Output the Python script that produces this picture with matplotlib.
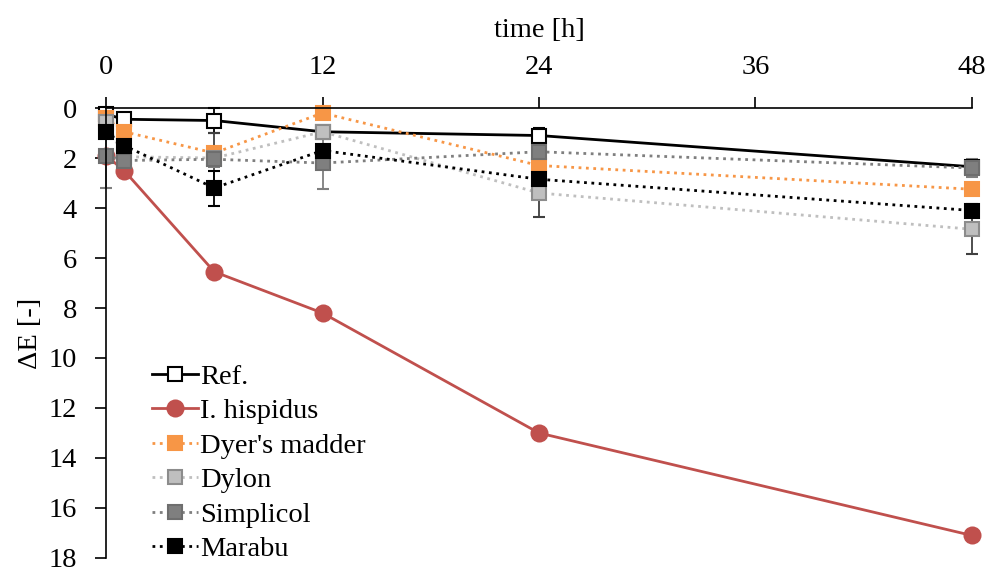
import matplotlib
matplotlib.use("Agg")
import matplotlib.pyplot as plt

plt.rcParams["font.family"] = ["Liberation Serif", "DejaVu Serif"]

time_h = [0, 1, 6, 12, 24, 48]

ref = [0.25, 0.45, 0.5, 0.95, 1.1, 2.35]
hispidus = [1.9, 2.5, 6.55, 8.2, 13.0, 17.1]
dyers_madder = [0.4, 0.95, 1.8, 0.2, 2.3, 3.25]
dylon = [0.55, 1.95, 2.0, 0.95, 3.4, 4.85]
simplicol = [1.9, 2.1, 2.05, 2.2, 1.75, 2.4]
marabu = [0.95, 1.5, 3.2, 1.7, 2.85, 4.1]

ref_err = [0.25, 0.1, 0.5, 0.1, 0.3, 0.1]
hispidus_err = [0.2, 0.2, 0.2, 0.2, 0.2, 0.2]
dyers_err = [0.1, 0.1, 0.2, 0.1, 0.2, 0.2]
dylon_err = [0.1, 0.1, 1.0, 0.2, 0.95, 1.0]
simplicol_err = [1.3, 0.1, 0.3, 1.05, 0.1, 0.35]
marabu_err = [0.1, 0.1, 0.7, 0.1, 0.2, 0.1]

series = [
    ("Ref.", ref, ref_err, dict(color="black", ls="-", marker="s", mfc="white", mec="black", ms=10.5), "black"),
    ("I. hispidus", hispidus, hispidus_err, dict(color="#C0504D", ls="-", marker="o", mfc="#C0504D", mec="#C0504D", ms=11.5), "#C0504D"),
    ("Dyer's madder", dyers_madder, dyers_err, dict(color="#F79646", ls=":", marker="s", mfc="#F79646", mec="#F79646", ms=10.5), "#F79646"),
    ("Dylon", dylon, dylon_err, dict(color="#BFBFBF", ls=":", marker="s", mfc="#BFBFBF", mec="#8C8C8C", ms=10.5), "#404040"),
    ("Simplicol", simplicol, simplicol_err, dict(color="#7F7F7F", ls=":", marker="s", mfc="#7F7F7F", mec="#6E6E6E", ms=10.5), "#7F7F7F"),
    ("Marabu", marabu, marabu_err, dict(color="black", ls=":", marker="s", mfc="black", mec="black", ms=10.5), "black"),
]

fig = plt.figure(figsize=(9.87, 5.67), dpi=100)
ax = fig.add_axes([0.1074, 0.0159, 0.8774, 0.7936])

for name, vals, err, style, ecol in series:
    lw = 2.0 if style["ls"] == "-" else 2.0
    ax.errorbar(time_h, vals, yerr=err, label=name, lw=lw, mew=1.5,
                ecolor=ecol, elinewidth=1.3, capsize=4, capthick=1.3,
                clip_on=False, **style)

ax.set_xlim(0, 48)
ax.set_ylim(18, 0)
ax.set_xticks([0, 12, 24, 36, 48])
ax.set_yticks(range(0, 19, 2))
ax.xaxis.tick_top()
ax.xaxis.set_label_position("top")
ax.set_xlabel("time [h]", fontsize=20.5, labelpad=13)
ax.set_ylabel("ΔE [-]", fontsize=20.5, labelpad=4)
ax.tick_params(axis="both", labelsize=20.5, width=1.2, length=8, direction="out")
ax.tick_params(axis="x", pad=12)
ax.tick_params(axis="y", pad=13)
for side in ["bottom", "right"]:
    ax.spines[side].set_visible(False)
for side in ["top", "left"]:
    ax.spines[side].set_linewidth(1.2)

handles, labels = ax.get_legend_handles_labels()
handles = [h.lines[0] for h in handles]
ax.legend(handles, labels, loc="lower left", bbox_to_anchor=(0.04, -0.035),
          frameon=False, fontsize=20.5, handlelength=1.6, handletextpad=0.1,
          labelspacing=0.3, borderaxespad=0)

fig.savefig("out.png", dpi=100)
